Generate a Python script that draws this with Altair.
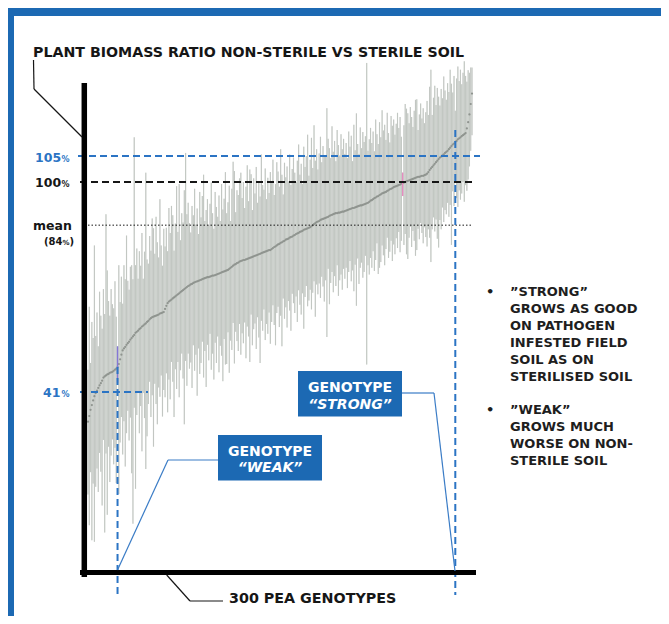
import altair as alt
import pandas as pd

# ---------------- data (plotted ratio units) ----------------
MEAN = [
    53.9, 55.0, 56.2, 57.1, 58.0, 58.8, 59.4, 59.9, 60.4, 60.9, 61.3, 61.8, 62.4, 62.6, 62.8, 63.0, 63.1, 63.3, 63.4, 63.5,
    63.7, 63.9, 64.1, 64.4, 65.0, 65.9, 66.8, 67.6, 68.0, 68.3, 68.7, 69.0, 69.3, 69.7, 70.0, 70.3, 70.6, 71.0, 71.2, 71.4,
    71.7, 71.9, 72.2, 72.4, 72.6, 72.8, 73.1, 73.3, 73.6, 73.8, 74.0, 74.1, 74.2, 74.3, 74.4, 74.5, 74.7, 74.8, 74.9, 75.0,
    75.6, 76.2, 76.7, 77.0, 77.2, 77.4, 77.6, 77.8, 78.0, 78.2, 78.4, 78.6, 78.8, 79.0, 79.2, 79.4, 79.6, 79.8, 80.0, 80.1,
    80.3, 80.4, 80.6, 80.7, 80.8, 80.9, 81.0, 81.1, 81.2, 81.3, 81.4, 81.5, 81.6, 81.7, 81.7, 81.8, 81.9, 82.0, 82.0, 82.1,
    82.2, 82.3, 82.4, 82.5, 82.6, 82.7, 82.8, 82.9, 83.0, 83.1, 83.3, 83.5, 83.7, 83.9, 84.1, 84.2, 84.4, 84.5, 84.7, 84.8,
    84.9, 85.0, 85.0, 85.1, 85.2, 85.3, 85.4, 85.5, 85.6, 85.7, 85.8, 85.9, 86.0, 86.1, 86.2, 86.3, 86.4, 86.5, 86.6, 86.7,
    86.8, 86.9, 86.9, 87.1, 87.3, 87.5, 87.6, 87.8, 88.0, 88.1, 88.3, 88.4, 88.6, 88.7, 88.9, 89.0, 89.1, 89.3, 89.4, 89.5,
    89.7, 89.8, 90.0, 90.1, 90.2, 90.4, 90.5, 90.6, 90.8, 90.9, 91.0, 91.1, 91.2, 91.3, 91.5, 91.7, 91.9, 92.1, 92.3, 92.4,
    92.5, 92.7, 92.8, 92.9, 93.0, 93.1, 93.2, 93.3, 93.5, 93.6, 93.7, 93.8, 93.9, 94.0, 94.0, 94.1, 94.1, 94.2, 94.3, 94.3,
    94.4, 94.5, 94.6, 94.7, 94.8, 94.9, 95.0, 95.0, 95.1, 95.2, 95.3, 95.4, 95.5, 95.5, 95.6, 95.7, 95.8, 95.9, 96.0, 96.2,
    96.4, 96.5, 96.7, 96.9, 97.0, 97.2, 97.3, 97.5, 97.6, 97.8, 97.9, 98.0, 98.1, 98.3, 98.4, 98.6, 98.7, 98.8, 99.0, 99.1,
    99.2, 99.3, 99.4, 99.5, 99.7, 99.8, 99.9, 100.0, 100.1, 100.2, 100.3, 100.4, 100.5, 100.6, 100.7, 100.8, 100.9, 101.0, 101.0, 101.1,
    101.2, 101.2, 101.3, 101.4, 101.6, 101.9, 102.3, 102.6, 102.9, 103.2, 103.5, 103.8, 104.1, 104.4, 104.7, 104.9, 105.1, 105.3, 105.6, 105.8,
    106.0, 106.3, 106.6, 106.9, 107.2, 107.4, 107.7, 107.9, 108.2, 108.4, 108.6, 108.8, 109.0, 109.2, 109.4, 110.3, 111.5, 113.0, 115.0, 117.0,
]
UP = [
    10, 21, 9, 16, 12, 29, 11, 15, 8, 18, 13, 10, 17, 12, 31, 20, 14, 11, 16, 13,
    12, 17, 10, 4, 19, 11, 15, 9, 16, 13, 21, 12, 10, 14, 14, 11, 38, 13, 16, 10,
    15, 12, 18, 9, 14, 29, 12, 11, 16, 13, 19, 17, 12, 19, 14, 11, 22, 13, 9, 16,
    12, 15, 10, 18, 13, 18, 16, 9, 14, 21, 12, 21, 10, 15, 13, 19, 26, 14, 16, 12,
    10, 15, 13, 18, 11, 14, 9, 17, 12, 16, 20, 11, 13, 15, 10, 14, 18, 12, 9, 16,
    13, 11, 15, 10, 17, 12, 14, 19, 11, 13, 16, 9, 15, 20, 18, 10, 14, 13, 16, 17,
    12, 15, 10, 14, 18, 11, 17, 16, 9, 15, 12, 17, 10, 14, 11, 19, 13, 12, 16, 10,
    14, 11, 15, 13, 17, 10, 12, 16, 14, 11, 18, 13, 9, 15, 12, 14, 11, 16, 10, 13,
    15, 12, 10, 14, 17, 11, 13, 9, 16, 12, 14, 18, 10, 13, 17, 11, 19, 12, 14, 10,
    13, 16, 11, 14, 12, 12, 21, 15, 13, 11, 17, 12, 14, 10, 16, 13, 11, 15, 12, 14,
    11, 13, 10, 15, 12, 14, 9, 16, 11, 18, 12, 10, 15, 11, 14, 12, 13, 27, 10, 12,
    14, 11, 13, 9, 15, 12, 10, 14, 11, 16, 12, 13, 10, 15, 11, 9, 14, 12, 13, 10,
    12, 14, 11, 13, 9, 2, 11, 15, 14, 13, 11, 14, 12, 10, 13, 15, 15, 9, 12, 14,
    11, 13, 10, 12, 14, 11, 16, 19, 10, 13, 15, 11, 14, 12, 10, 13, 11, 15, 12, 10,
    13, 11, 15, 12, 10, 13, 6, 12, 14, 11, 13, 10, 12, 14, 11, 9, 10, 8, 7, 5,
]
DOWN = [
    14, 21, 12, 26, 16, 28, 18, 15, 20, 13, 17, 24, 12, 30, 15, 27, 14, 21, 16, 13,
    18, 15, 22, 3, 25, 16, 12, 20, 14, 23, 17, 13, 19, 15, 26, 36, 14, 30, 16, 12,
    20, 15, 24, 13, 18, 28, 22, 16, 12, 19, 15, 25, 13, 17, 21, 14, 16, 12, 20, 15,
    17, 13, 21, 15, 19, 12, 16, 23, 14, 18, 13, 20, 15, 12, 17, 26, 14, 19, 13, 16,
    15, 20, 12, 17, 14, 22, 13, 18, 16, 12, 19, 14, 21, 13, 16, 11, 18, 15, 20, 13,
    17, 12, 19, 14, 16, 21, 13, 18, 18, 12, 20, 14, 16, 11, 19, 13, 15, 17, 12, 18,
    14, 16, 12, 19, 13, 15, 20, 11, 17, 14, 13, 18, 12, 16, 21, 13, 15, 11, 17, 14,
    16, 12, 18, 14, 11, 15, 19, 13, 12, 16, 14, 20, 11, 15, 13, 17, 12, 14, 18, 11,
    13, 15, 12, 17, 11, 14, 16, 12, 19, 13, 11, 15, 14, 12, 16, 13, 11, 18, 12, 14,
    12, 15, 11, 13, 16, 12, 23, 10, 17, 13, 11, 15, 12, 14, 10, 16, 13, 12, 15, 11,
    13, 11, 15, 12, 10, 14, 12, 16, 11, 19, 10, 15, 12, 11, 14, 13, 10, 31, 12, 14,
    11, 13, 10, 14, 12, 9, 15, 14, 13, 10, 12, 14, 11, 9, 13, 12, 10, 14, 11, 13,
    10, 12, 9, 13, 11, 2.5, 12, 10, 14, 15, 11, 9, 13, 10, 12, 15, 14, 10, 12, 9,
    11, 13, 10, 12, 14, 11, 13, 18, 12, 10, 13, 11, 15, 17, 12, 14, 10, 13, 11, 12,
    10, 13, 11, 19, 9, 12, 7, 11, 13, 10, 12, 11, 9, 13, 10, 12, 11, 10, 9, 8,
]
WEAK_IDX = 23
STRONG_IDX = 286
PINK_IDX = 245
LEVEL_105 = 105.0
LEVEL_100 = 100.0
LEVEL_MEAN = 91.7   # plotted position of the "mean (84%)" line
LEVEL_41 = 59.6     # plotted position of the "41%" line

TITLE = "PLANT BIOMASS RATIO NON-STERILE VS STERILE SOIL"
XLABEL = "300 PEA GENOTYPES"
NOTE1 = ["\u201dSTRONG\u201d", "GROWS AS GOOD", "ON PATHOGEN", "INFESTED FIELD", "SOIL AS ON", "STERILISED SOIL"]
NOTE2 = ["\u201dWEAK\u201d", "GROWS MUCH", "WORSE ON NON-", "STERILE SOIL"]

# ---------------- layout helpers (page pixels -> data units) ----------------
W, H = 653, 608
PX0, PXK = 88.0, 384.0 / 299.0
PY100, PYK = 182.0, 5.2


def gx(px):
    return (px - PX0) / PXK


def gy(py):
    return 100.0 - (py - PY100) / PYK


XS = alt.Scale(domain=[gx(8), gx(8 + W)], nice=False, zero=False)
YS = alt.Scale(domain=[gy(8 + H), gy(8)], nice=False, zero=False)


def X(f):
    return alt.X(f, type="quantitative", scale=XS, axis=None)


def Y(f):
    return alt.Y(f, type="quantitative", scale=YS, axis=None)


N = len(MEAN)
df = pd.DataFrame({
    "g": list(range(N)),
    "mean": MEAN,
    "lo": [m - d for m, d in zip(MEAN, DOWN)],
    "hi": [m + u for m, u in zip(MEAN, UP)],
})

BLUE = "#1c69b3"
DBLUE = "#2b74c4"
INK = "#161616"

layers = []

# frame strips
frame = pd.DataFrame({
    "x": [gx(8), gx(8)], "x2": [gx(14), gx(8 + W)],
    "y": [gy(8 + H), gy(8)], "y2": [gy(8), gy(16)],
})
layers.append(alt.Chart(frame).mark_rect(color=BLUE).encode(x=X("x"), x2="x2", y=Y("y"), y2="y2"))

# error bars (pale body with a darker core) and means
layers.append(alt.Chart(df).mark_rule(color="#d3d7d3", strokeWidth=1.2).encode(x=X("g"), y=Y("lo"), y2="hi"))
layers.append(alt.Chart(df).mark_rule(color="#b4b9b4", strokeWidth=0.55).encode(x=X("g"), y=Y("lo"), y2="hi"))
layers.append(alt.Chart(df).mark_circle(size=5, color="#8f948f", opacity=1).encode(x=X("g"), y=Y("mean")))

hl = df.iloc[[WEAK_IDX, PINK_IDX]].copy()
hl["c"] = ["#8577d6", "#e58cc0"]
layers.append(alt.Chart(hl).mark_rule(strokeWidth=1.4).encode(
    x=X("g"), y=Y("lo"), y2="hi", color=alt.Color("c:N", scale=None)))

# reference lines
def hline(y, x1, x2, color, width, dash):
    d = pd.DataFrame({"x": [x1], "x2": [x2], "y": [y]})
    return alt.Chart(d).mark_rule(color=color, strokeWidth=width, strokeDash=dash).encode(
        x=X("x"), x2="x2", y=Y("y"))


def vline(x, y1, y2, color, width, dash):
    d = pd.DataFrame({"x": [x], "y": [y1], "y2": [y2]})
    return alt.Chart(d).mark_rule(color=color, strokeWidth=width, strokeDash=dash).encode(
        x=X("x"), y=Y("y"), y2="y2")


layers.append(hline(LEVEL_105, gx(78), gx(480), DBLUE, 2, [7, 4]))
layers.append(hline(LEVEL_100, gx(80), gx(473), INK, 2, [7, 4]))
layers.append(hline(LEVEL_MEAN, gx(88), gx(471), INK, 1, [1.5, 2]))
layers.append(hline(LEVEL_41, gx(80), gx(148), DBLUE, 2, [7, 4]))
layers.append(vline(WEAK_IDX, MEAN[WEAK_IDX], gy(595), DBLUE, 2, [7, 4]))
layers.append(vline(STRONG_IDX, gy(130), gy(595), DBLUE, 2, [7, 4]))

# axes (thick black lines)
layers.append(vline(gx(84.3), gy(83), gy(577), "#000000", 5.5, [1, 0]))
layers.append(hline(gy(572.5), gx(80), gx(476), "#000000", 5, [1, 0]))

# leader lines
def segs(pts, color, width):
    rows = []
    for (a, b) in zip(pts[:-1], pts[1:]):
        rows.append({"x": gx(a[0]), "y": gy(a[1]), "x2": gx(b[0]), "y2": gy(b[1])})
    return alt.Chart(pd.DataFrame(rows)).mark_rule(color=color, strokeWidth=width).encode(
        x=X("x"), y=Y("y"), x2="x2", y2="y2")


layers.append(segs([(33.5, 60), (34, 89), (82, 137)], INK, 1.2))
layers.append(segs([(166.7, 575), (190, 601), (223, 601)], INK, 1.2))
layers.append(segs([(402, 393), (434, 393), (455, 571)], "#3a7cc6", 1.2))
layers.append(segs([(218, 460), (168, 460), (117.5, 570)], "#3a7cc6", 1.2))

# callout boxes
boxes = pd.DataFrame({
    "x": [gx(298), gx(218)], "x2": [gx(402), gx(322)],
    "y": [gy(371), gy(435)], "y2": [gy(416.5), gy(480.5)],
})
layers.append(alt.Chart(boxes).mark_rect(color=BLUE).encode(x=X("x"), x2="x2", y=Y("y"), y2="y2"))


def texts(rows, size, color, align="left", style="normal", font="DejaVu Sans"):
    d = pd.DataFrame([{"x": gx(r[0]), "y": gy(r[1]), "t": r[2]} for r in rows])
    return alt.Chart(d).mark_text(
        align=align, baseline="alphabetic", font=font, fontSize=size, fontWeight="bold",
        fontStyle=style, color=color).encode(x=X("x"), y=Y("y"), text="t:N")


layers.append(texts([(350, 392, "GENOTYPE"), (270, 455.5, "GENOTYPE")], 14, "#ffffff", align="center"))
layers.append(texts([(350, 408.5, "\u201cSTRONG\u201d"), (270, 472, "\u201cWEAK\u201d")], 14, "#ffffff",
                    align="center", style="italic"))

# title and axis label
layers.append(texts([(33, 57, TITLE)], 14.2, INK))
layers.append(texts([(229, 603, XLABEL)], 14.3, INK))

# y labels
layers.append(texts([(35, 161.5, "105"), (43, 397, "41")], 12.5, DBLUE))
layers.append(texts([(61.5, 161.5, "%"), (61.5, 397, "%")], 8, DBLUE))
layers.append(texts([(35, 187, "100"), (33, 229.5, "mean")], 12.5, INK))
layers.append(texts([(61.5, 187, "%")], 8, INK))
layers.append(texts([(44, 244.5, "(84"), (69.5, 244.5, ")")], 10, INK))
layers.append(texts([(62.5, 244.5, "%")], 7, INK))

# right notes
rows = []
for k, line in enumerate(NOTE1):
    rows.append((510, 296 + 17 * k, line))
for k, line in enumerate(NOTE2):
    rows.append((510, 414 + 17 * k, line))
layers.append(texts(rows, 13, "#1e1e1e"))
layers.append(texts([(486, 296, "\u2022"), (486, 414, "\u2022")], 13, "#1e1e1e"))

chart = alt.layer(*layers).properties(
    width=W, height=H, padding=0,
    autosize=alt.AutoSizeParams(type="none"),
).configure_view(stroke=None)

chart.save("out.html", embed_options={"renderer": "svg", "actions": False})
